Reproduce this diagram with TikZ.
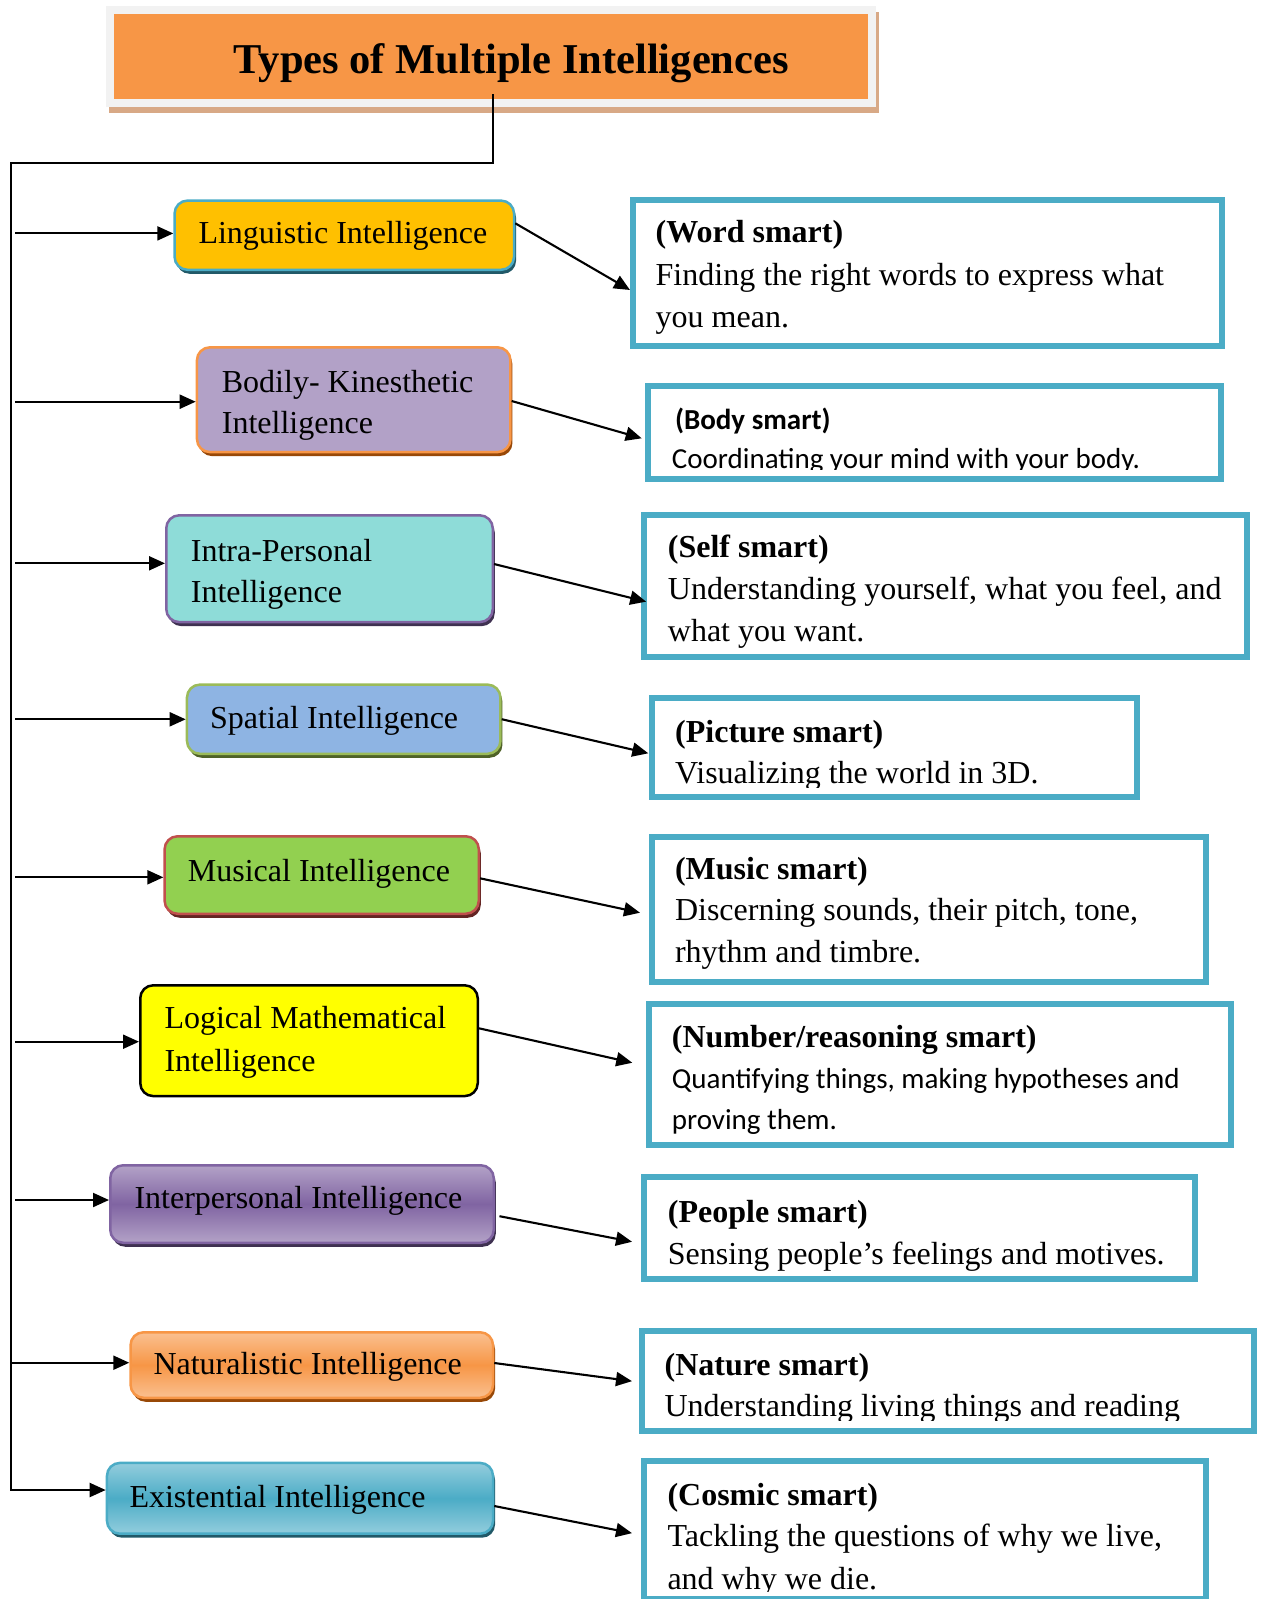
\documentclass[tikz,border=0pt]{standalone}
\usepackage{fontspec}
\setmainfont{Liberation Serif}
\newfontfamily\carl{Carlito}
\usetikzlibrary{arrows.meta,shadows}
\definecolor{teal1}{HTML}{4BACC6}
\definecolor{orng}{HTML}{F79646}
\definecolor{tan1}{HTML}{D8A986}
\definecolor{gray1}{HTML}{F2F2F2}
\definecolor{goldf}{HTML}{FFC000}
\definecolor{lilac}{HTML}{B2A1C7}
\definecolor{turq}{HTML}{8EDCD8}
\definecolor{skyb}{HTML}{8EB4E3}
\definecolor{grn}{HTML}{92D050}
\definecolor{ylw}{HTML}{FFFF00}
\definecolor{purp}{HTML}{8064A2}
\definecolor{purpl}{HTML}{B3A2C7}
\definecolor{orngl}{HTML}{FAC090}
\definecolor{teall}{HTML}{93CDDD}
\definecolor{olive}{HTML}{9BBB59}
\definecolor{redb}{HTML}{C0504D}
\definecolor{shteal}{HTML}{215968}
\definecolor{shbrown}{HTML}{984807}
\definecolor{shpurp}{HTML}{3F3151}
\definecolor{sholive}{HTML}{4F6228}
\definecolor{shred}{HTML}{632523}
\newcommand{\mytnr}{\fontsize{32}{41.8}\selectfont}
\newcommand{\mycar}{\carl\fontsize{29}{36}\selectfont}
\begin{document}
\begin{tikzpicture}[x=1pt,y=-1pt,
  conn/.style={line width=2.1pt, black},
  arr/.style={conn, -{Triangle[length=16pt,width=14pt]}},
  lbox/.style={draw, line width=2.5pt, rounded corners=13pt, inner sep=0pt},
  shd/.style={drop shadow={shadow xshift=2pt,shadow yshift=-4pt,fill=#1,opacity=1}},
  rbox/.style={draw=teal1, line width=6pt, inner sep=0pt, fill=white},
  ltxt/.style={anchor=base west, inner sep=0pt, font=\mytnr, yshift=-2pt},
  rhead/.style={anchor=base west, inner sep=0pt, font=\mytnr\bfseries, yshift=-2pt},
  chead/.style={anchor=base west, inner sep=0pt, font=\mycar\bfseries, yshift=-2pt},
  ctxt/.style={anchor=base west, inner sep=0pt, font=\mycar, yshift=-2pt}]
\useasboundingbox (0,0) rectangle (1262,1599);

% title
\fill[tan1] (109,12) rectangle (879,113.3);
\fill[gray1] (106,6) rectangle (876,107.3);
\node[fill=orng, inner sep=0pt, minimum width=753.5pt, minimum height=85.3pt] (title) at (490.75,56.65) {};
\node[anchor=base, inner sep=0pt, font=\fontsize{42.5}{50}\selectfont\bfseries] (ttext) at (511.2,73.5) {Types of Multiple Intelligences};

% left boxes
\node[lbox, fill=goldf, draw=teal1, shd=shteal, minimum width=339.5pt, minimum height=69.2pt] (b1) at (344.3,235.2) {};
\node[lbox, fill=lilac, draw=orng, shd=shbrown, minimum width=313.5pt, minimum height=104.8pt] (b2) at (353.7,399.7) {};
\node[lbox, fill=turq, draw=purp, shd=shpurp, minimum width=326.5pt, minimum height=106.8pt] (b3) at (329.5,568.7) {};
\node[lbox, fill=skyb, draw=olive, shd=sholive, minimum width=313.5pt, minimum height=69.2pt] (b4) at (343.7,719.2) {};
\node[lbox, fill=grn, draw=redb, shd=shred, minimum width=314.2pt, minimum height=77.5pt] (b5) at (321.7,875) {};
\node[lbox, fill=ylw, draw=black, minimum width=337.5pt, minimum height=110.8pt] (b6) at (309,1040.7) {};
\node[lbox, top color=purpl, bottom color=purpl, middle color=purp, draw=purp, shd=shpurp, minimum width=383.5pt, minimum height=77.5pt] (b7) at (302,1204) {};
\node[lbox, top color=orngl, bottom color=orngl, middle color=orng, draw=orng, shd=shbrown, minimum width=362.5pt, minimum height=65.5pt] (b8) at (311.8,1365) {};
\node[lbox, top color=teall, bottom color=teall, middle color=teal1, draw=teal1, shd=shteal, minimum width=386.1pt, minimum height=70.8pt] (b9) at (300,1498.3) {};

% left texts
\node[ltxt] (t1) at (198.3,241.7) {Linguistic Intelligence};
\node[ltxt] (t2a) at (221.7,390) {Bodily- Kinesthetic};
\node[ltxt] (t2b) at (221.7,431.7) {Intelligence};
\node[ltxt] (t3a) at (190.7,559.3) {Intra-Personal};
\node[ltxt] (t3b) at (190.7,600) {Intelligence};
\node[ltxt] (t4) at (210,726) {Spatial Intelligence};
\node[ltxt] (t5) at (187.7,879.3) {Musical Intelligence};
\node[ltxt] (t6a) at (164.3,1026.7) {Logical Mathematical};
\node[ltxt] (t6b) at (164.3,1069.3) {Intelligence};
\node[ltxt] (t7) at (134.3,1206.7) {Interpersonal Intelligence};
\node[ltxt] (t8) at (153.3,1372.3) {Naturalistic Intelligence};
\node[ltxt] (t9) at (129.3,1505) {Existential Intelligence};

% right boxes
\node[rbox, minimum width=589.3pt, minimum height=146pt] (r1) at (927.65,273) {};
\node[rbox, minimum width=573pt, minimum height=93pt] (r2) at (934.8,432.5) {};
\node[rbox, minimum width=602.6pt, minimum height=141.9pt] (r3) at (945.5,585.65) {};
\node[rbox, minimum width=484.7pt, minimum height=99pt] (r4) at (894.65,747.5) {};
\node[rbox, minimum width=553.6pt, minimum height=144.8pt] (r5) at (929.2,909.3) {};
\node[rbox, minimum width=581.5pt, minimum height=141.3pt] (r6) at (939.95,1074.35) {};
\node[rbox, minimum width=550.6pt, minimum height=102.1pt] (r7) at (919.5,1228.35) {};
\node[rbox, minimum width=612.5pt, minimum height=99.7pt] (r8) at (947.75,1381.15) {};
\node[rbox, minimum width=561.9pt, minimum height=137.7pt] (r9) at (925.35,1530.15) {};

% right texts
\node[rhead] (w1a) at (655.5,240.6) {(Word smart)};
\node[ltxt] (w1b) at (655.5,283.4) {Finding the right words to express what};
\node[ltxt] (w1c) at (655.5,325.2) {you mean.};

\begin{scope}
\clip (640,380) rectangle (1230,469);
\node[chead] (w2a) at (674.8,427.6) {(Body smart)};
\node[ctxt] (w2b) at (671.7,466) {Coordinating your mind with your body.};
\end{scope}

\node[rhead] (w3a) at (667.7,555.6) {(Self smart)};
\node[ltxt] (w3b) at (667.7,597.4) {Understanding yourself, what you feel, and};
\node[ltxt] (w3c) at (667.7,639.2) {what you want.};

\begin{scope}
\clip (640,690) rectangle (1140,787);
\node[rhead] (w4a) at (675,740.1) {(Picture smart)};
\node[ltxt] (w4b) at (675,781.9) {Visualizing the world in 3D.};
\end{scope}

\node[rhead] (w5a) at (674.8,877.7) {(Music smart)};
\node[ltxt] (w5b) at (674.8,918.5) {Discerning sounds, their pitch, tone,};
\node[ltxt] (w5c) at (674.8,960.3) {rhythm and timbre.};

\node[rhead] (w6a) at (671.7,1045.9) {(Number/reasoning smart)};
\node[ctxt] (w6b) at (671.7,1086.7) {Quantifying things, making hypotheses and};
\node[ctxt] (w6c) at (671.7,1127.5) {proving them.};

\node[rhead] (w7a) at (667.7,1220.2) {(People smart)};
\node[ltxt] (w7b) at (667.7,1262) {Sensing people’s feelings and motives.};

\begin{scope}
\clip (640,1330) rectangle (1255,1420);
\node[rhead] (w8a) at (664.4,1373.1) {(Nature smart)};
\node[ltxt] (w8b) at (664.4,1414.9) {Understanding living things and reading};
\end{scope}

\begin{scope}
\clip (640,1460) rectangle (1210,1591);
\node[rhead] (w9a) at (667.3,1503.6) {(Cosmic smart)};
\node[ltxt] (w9b) at (667.3,1544.4) {Tackling the questions of why we live,};
\node[ltxt] (w9c) at (667.3,1587.2) {and why we die.};
\end{scope}

% main connector
\coordinate (t0) at (493.4,94);
\coordinate (c0) at (11.2,163.1);
\draw[arr] (t0) |- (c0) |- ([yshift=8.3pt]b9.west);

% left arrows
\coordinate (l1) at (15.3,233.4);
\coordinate (l2) at (15.3,401.7);
\coordinate (l3) at (15.3,563.3);
\coordinate (l4) at (15.3,719.3);
\coordinate (l5) at (15.3,877.3);
\coordinate (l6) at (15.3,1041.7);
\coordinate (l7) at (15.3,1200);
\coordinate (l8) at (11.2,1362.7);
\draw[arr] (l1) -- (l1 -| b1.west);
\draw[arr] (l2) -- (l2 -| b2.west);
\draw[arr] (l3) -- (l3 -| b3.west);
\draw[arr] (l4) -- (l4 -| b4.west);
\draw[arr] (l5) -- (l5 -| b5.west);
\draw[arr] (l6) -- (l6 -| b6.west);
\draw[arr] (l7) -- (l7 -| b7.west);
\draw[arr] (l8) -- (l8 -| b8.west);

% right arrows
\draw[arr] ([yshift=11.9pt]b1.east) -- ([yshift=-17pt]r1.west);
\draw[arr] ([yshift=-1.3pt]b2.east) -- ([xshift=-3.6pt,yshift=-5.8pt]r2.west);
\draw[arr] ([yshift=4.7pt]b3.east) -- ([xshift=5pt,yshift=-16pt]r3.west);
\draw[arr] (b4.east) -- ([xshift=-1pt,yshift=-5.8pt]r4.west);
\draw[arr] ([yshift=-3.3pt]b5.east) -- ([xshift=-9.4pt,yshift=-3.4pt]r5.west);
\draw[arr] ([yshift=12.4pt]b6.east) -- ([xshift=-13.9pt,yshift=11.6pt]r6.west);
\draw[arr] ([xshift=4.5pt,yshift=-12.2pt]b7.east) -- ([xshift=-9.2pt,yshift=-13.4pt]r7.west);
\draw[arr] ([yshift=2pt]b8.east) -- ([xshift=-6.5pt]r8.west);
\draw[arr] ([yshift=-7.7pt]b9.east) -- ([xshift=-9.4pt,yshift=-3pt]r9.west);
\end{tikzpicture}
\end{document}
